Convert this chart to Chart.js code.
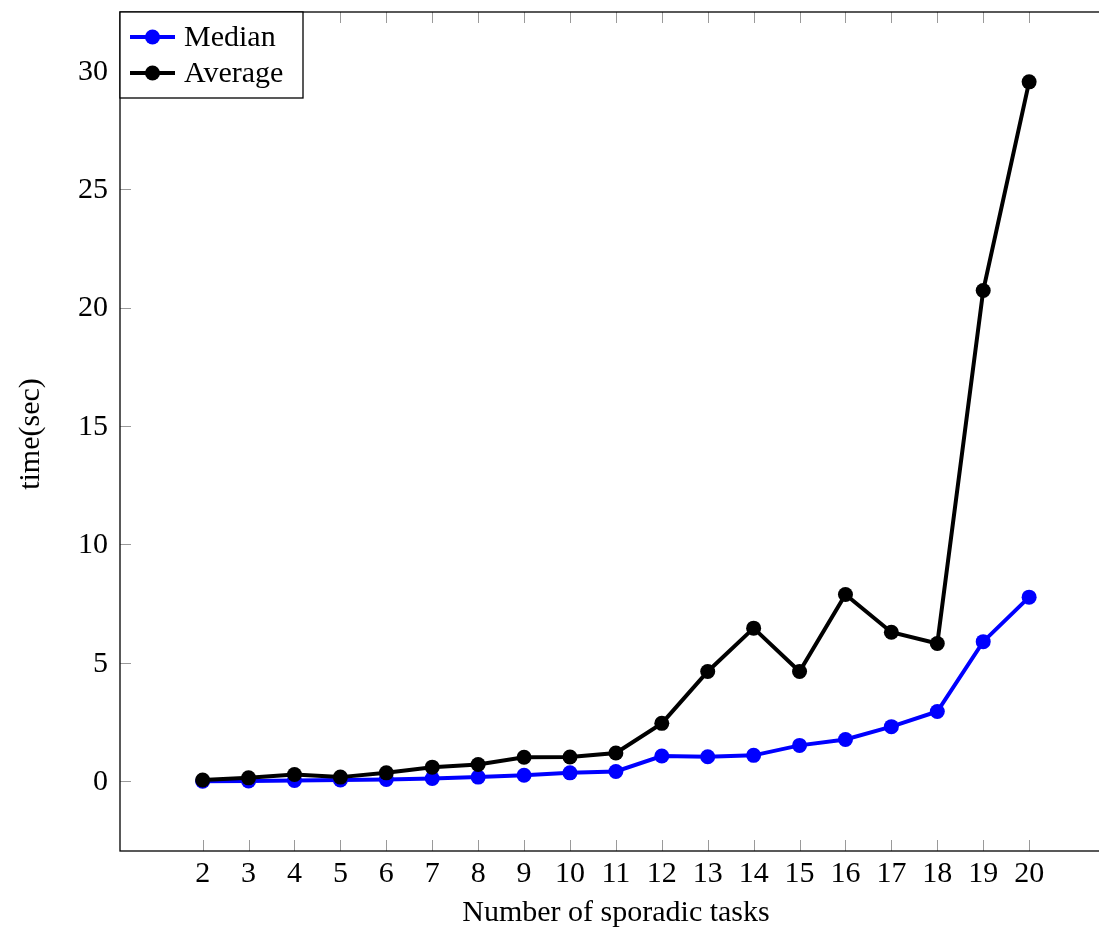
<!DOCTYPE html>
<html>
<head>
<meta charset="utf-8">
<script src="https://cdn.jsdelivr.net/npm/chart.js@4"></script>
<style>
  body { margin: 0; background: #fff; }
  #wrap { width: 1099px; height: 928px; }
</style>
</head>
<body>
<div id="wrap"><canvas id="chart"></canvas></div>
<script>
// ── data ────────────────────────────────
const tasks   = [2, 3, 4, 5, 6, 7, 8, 9, 10, 11, 12, 13, 14, 15, 16, 17, 18, 19, 20];
const median  = [0.0, 0.01, 0.03, 0.05, 0.07, 0.11, 0.17, 0.25, 0.35, 0.41, 1.06, 1.03, 1.09, 1.51, 1.76, 2.30, 2.94, 5.89, 7.77];
const average = [0.05, 0.14, 0.28, 0.17, 0.35, 0.59, 0.70, 1.01, 1.02, 1.19, 2.44, 4.63, 6.46, 4.63, 7.88, 6.29, 5.81, 20.72, 29.53];
const xTicks  = tasks;
const yTicks  = [0, 5, 10, 15, 20, 25, 30];

const FONT = '"Liberation Serif", "DejaVu Serif", serif';
const pts  = arr => arr.map((v, i) => ({ x: tasks[i], y: v }));

// frame, inward ticks, labels and legend drawn with the scales
const pgfAxes = {
  id: 'pgfAxes',
  afterDraw(chart) {
    const { ctx, chartArea: a, scales: { x, y } } = chart;
    ctx.save();

    // ticks (inside; the right side of the axis is cut off in the picture)
    ctx.strokeStyle = '#9a9a9a';
    ctx.lineWidth = 1;
    ctx.beginPath();
    xTicks.forEach(t => {
      const px = Math.round(x.getPixelForValue(t)) + 0.5;
      ctx.moveTo(px, a.bottom); ctx.lineTo(px, a.bottom - 11);
      ctx.moveTo(px, a.top);    ctx.lineTo(px, a.top + 11);
    });
    yTicks.forEach(t => {
      const py = Math.round(y.getPixelForValue(t)) + 0.5;
      ctx.moveTo(a.left, py);  ctx.lineTo(a.left + 11, py);
    });
    ctx.stroke();

    // frame
    ctx.strokeStyle = '#000';
    ctx.lineWidth = 1.3;
    ctx.strokeRect(a.left, a.top, a.right - a.left + 4, a.bottom - a.top);

    // tick labels
    ctx.fillStyle = '#000';
    ctx.font = '30px ' + FONT;
    ctx.textAlign = 'center';
    ctx.textBaseline = 'alphabetic';
    xTicks.forEach(t => ctx.fillText(String(t), x.getPixelForValue(t), 882));
    ctx.textAlign = 'right';
    ctx.textBaseline = 'middle';
    yTicks.forEach(t => ctx.fillText(String(t), 108, y.getPixelForValue(t) + 1));

    // axis titles
    ctx.textAlign = 'center';
    ctx.textBaseline = 'alphabetic';
    ctx.fillText('Number of sporadic tasks', 616, 921);
    ctx.save();
    ctx.translate(39, 434);
    ctx.rotate(-Math.PI / 2);
    ctx.fillText('time(sec)', 0, 0);
    ctx.restore();

    // legend
    ctx.fillStyle = '#fff';
    ctx.fillRect(a.left, a.top, 183, 86);
    ctx.strokeStyle = '#000';
    ctx.lineWidth = 1.3;
    ctx.strokeRect(a.left, a.top, 183, 86);
    const rows = [37, 73];
    [chart.data.datasets[0], chart.data.datasets[1]].forEach((ds, i) => {
      const cy = rows[i];
      ctx.strokeStyle = ds.borderColor;
      ctx.lineWidth = 4;
      ctx.beginPath(); ctx.moveTo(130, cy); ctx.lineTo(175, cy); ctx.stroke();
      ctx.fillStyle = ds.pointBackgroundColor;
      ctx.beginPath(); ctx.arc(152.5, cy, 7.5, 0, Math.PI * 2); ctx.fill();
      ctx.fillStyle = '#000';
      ctx.textAlign = 'left';
      ctx.textBaseline = 'middle';
      ctx.fillText(ds.label, 184, cy + 1);
    });
    ctx.restore();
  }
};

new Chart(document.getElementById('chart').getContext('2d'), {
  type: 'line',
  data: {
    datasets: [
      {
        label: 'Median',
        data: pts(median),
        borderColor: '#0000ff', backgroundColor: '#0000ff',
        pointBackgroundColor: '#0000ff', pointBorderColor: '#0000ff',
        borderWidth: 4, pointRadius: 7.5, pointBorderWidth: 0,
        tension: 0, order: 2,
      },
      {
        label: 'Average',
        data: pts(average),
        borderColor: '#000000', backgroundColor: '#000000',
        pointBackgroundColor: '#000000', pointBorderColor: '#000000',
        borderWidth: 4, pointRadius: 7.5, pointBorderWidth: 0,
        tension: 0, order: 1,
      }
    ]
  },
  options: {
    responsive: true, maintainAspectRatio: false, animation: false,
    layout: { autoPadding: false, padding: { left: 120, right: 1, top: 12, bottom: 77 } },
    plugins: { legend: { display: false }, tooltip: { enabled: false } },
    scales: {
      x: { type: 'linear', min: 0.2, max: 21.5, display: false },
      y: { type: 'linear', min: -2.95, max: 32.48, display: false }
    }
  },
  plugins: [pgfAxes]
});
</script>
</body>
</html>
